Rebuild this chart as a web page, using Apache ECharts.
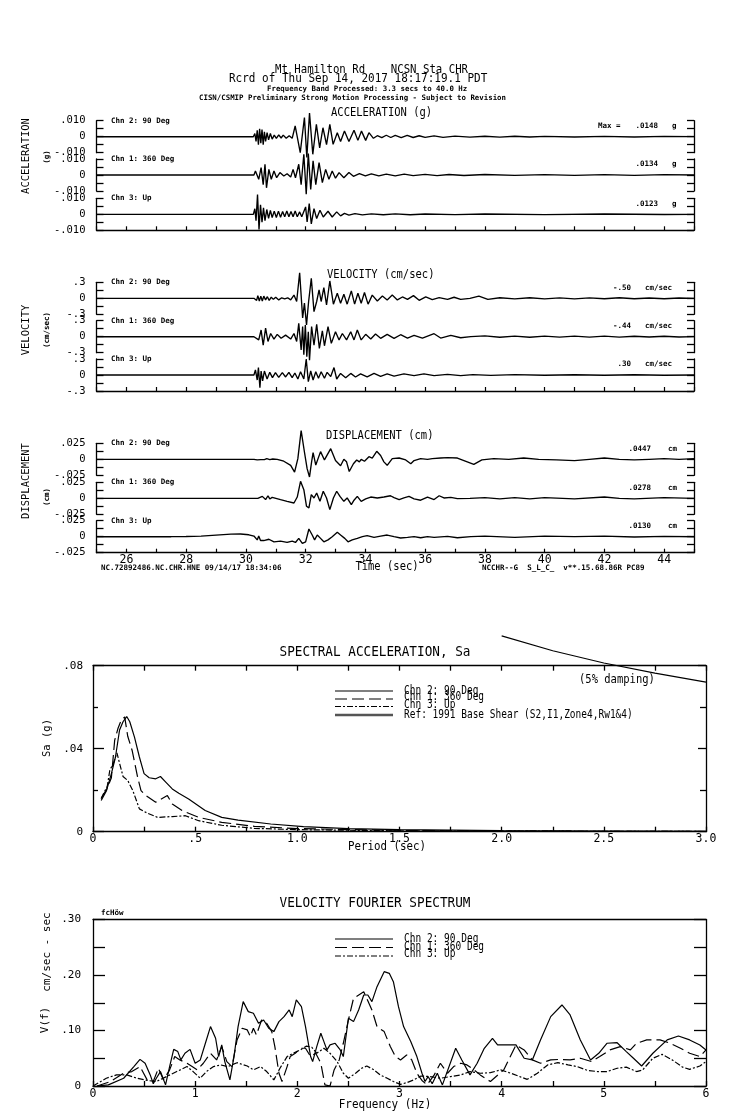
<!DOCTYPE html>
<html><head><meta charset="utf-8">
<script src="https://cdn.jsdelivr.net/npm/echarts@6/dist/echarts.min.js"></script>
<style>html,body{margin:0;padding:0;background:#fff}#c{width:739px;height:1115px}</style>
</head><body><div id="c"></div>
<script>
// ---------- time histories [time (s), value] ----------
const accChn2=[[25,0],[30.25,0],[30.3,0.002],[30.34,-0.003],[30.38,0.004],[30.42,-0.005],[30.46,0.005],[30.5,-0.004],[30.54,0.0045],[30.58,-0.005],[30.62,0.003],[30.66,-0.003],[30.71,0.0025],[30.76,-0.002],[30.82,0.002],[30.88,-0.0015],[30.95,0.001],[31.02,-0.001],[31.1,0.0012],[31.18,-0.0008],[31.25,0.001],[31.35,-0.001],[31.45,0.0006],[31.55,-0.001],[31.65,0.0067],[31.82,-0.010],[31.96,0.012],[32.04,-0.013],[32.13,0.0148],[32.24,-0.011],[32.36,0.0077],[32.47,-0.007],[32.58,0.0056],[32.70,-0.005],[32.81,0.0077],[32.92,-0.0048],[33.06,0.0025],[33.17,-0.003],[33.30,0.0035],[33.45,-0.003],[33.62,0.004],[33.75,-0.0023],[33.87,0.0035],[34.01,-0.0023],[34.12,0.0025],[34.27,-0.001],[34.4,0.0006],[34.55,-0.0006],[34.7,0.0009],[34.85,-0.0005],[35.0,0.0008],[35.2,-0.0006],[35.4,0.0008],[35.6,-0.0005],[35.8,0.0006],[36.0,-0.0004],[36.3,0.0005],[36.6,-0.0004],[37.0,0.0004],[37.5,-0.0003],[38,0.0003],[38.5,-0.0003],[39,0.0003],[39.5,-0.0002],[40,0.0002],[41,-0.0002],[42,0.0002],[43,-0.0002],[44,0.0002],[45,0]];
const accChn1=[[25,0],[30.27,0],[30.32,0.0025],[30.43,-0.0027],[30.51,0.0046],[30.58,-0.006],[30.64,0.0067],[30.69,-0.008],[30.77,0.0035],[30.85,-0.0027],[30.94,0.0025],[31.03,-0.0017],[31.14,0.0015],[31.27,-0.0006],[31.38,0.0008],[31.50,-0.0013],[31.58,0.0035],[31.66,-0.0017],[31.77,0.0067],[31.85,-0.006],[31.94,0.013],[32.02,-0.012],[32.09,0.0134],[32.17,-0.009],[32.25,0.0088],[32.34,-0.006],[32.45,0.0077],[32.56,-0.0048],[32.67,0.0035],[32.78,-0.0027],[32.89,0.0025],[33.00,-0.002],[33.12,0.0015],[33.28,-0.0017],[33.45,0.0015],[33.6,-0.0008],[33.8,0.0008],[34.0,-0.0006],[34.2,0.0007],[34.45,-0.0005],[34.7,0.0006],[35.0,-0.0005],[35.3,0.0005],[35.6,-0.0004],[36.0,0.0004],[36.4,-0.0004],[36.8,0.0003],[37.3,-0.0003],[38,0.0003],[39,-0.0002],[40,0.0002],[41,-0.0002],[42,0.0002],[43,-0.0002],[44,0.0002],[45,0]];
const accChn3=[[25,0],[30.25,0],[30.30,0.0035],[30.34,-0.004],[30.39,0.0123],[30.44,-0.0095],[30.49,0.006],[30.54,-0.005],[30.59,0.004],[30.64,-0.004],[30.70,0.003],[30.76,-0.0025],[30.82,0.0025],[30.88,-0.002],[30.95,0.002],[31.02,-0.002],[31.09,0.002],[31.16,-0.0018],[31.23,0.0018],[31.30,-0.0015],[31.37,0.002],[31.44,-0.0015],[31.51,0.0018],[31.58,-0.0015],[31.65,0.002],[31.72,-0.0015],[31.80,0.0015],[31.87,-0.0015],[32.00,0.0046],[32.05,-0.0048],[32.12,0.0067],[32.19,-0.006],[32.28,0.0035],[32.37,-0.0027],[32.48,0.0025],[32.59,-0.0017],[32.75,0.0019],[32.89,-0.0017],[33.04,0.0015],[33.17,-0.001],[33.3,0.0006],[33.45,-0.0005],[33.65,0.0004],[33.9,-0.0004],[34.2,0.0003],[34.6,-0.0003],[35.0,0.0003],[35.5,-0.0003],[36,0.0002],[37,-0.0002],[38,0.0002],[40,-0.0002],[42,0.0002],[44,-0.0001],[45,0]];
const velChn2=[[25,0],[30.27,0],[30.32,0.03],[30.36,-0.04],[30.40,0.05],[30.45,-0.05],[30.50,0.04],[30.55,-0.05],[30.60,0.04],[30.66,-0.03],[30.72,0.03],[30.78,-0.04],[30.85,0.02],[30.92,-0.02],[31.0,0.02],[31.1,-0.03],[31.2,0.01],[31.3,-0.01],[31.4,0.01],[31.50,-0.03],[31.61,0.06],[31.70,-0.06],[31.80,0.48],[31.90,-0.37],[31.96,-0.09],[32.03,-0.50],[32.10,-0.06],[32.19,0.375],[32.28,-0.25],[32.37,-0.06],[32.45,0.16],[32.52,-0.06],[32.61,0.2],[32.70,-0.125],[32.81,0.325],[32.93,-0.11],[33.06,0.094],[33.17,-0.094],[33.28,0.075],[33.39,-0.11],[33.53,0.14],[33.64,-0.11],[33.75,0.094],[33.86,-0.094],[33.97,0.11],[34.09,-0.11],[34.23,0.06],[34.40,-0.05],[34.57,0.044],[34.73,-0.03],[34.90,0.06],[35.07,-0.03],[35.24,0.025],[35.41,-0.02],[35.61,0.05],[35.80,-0.037],[36.02,0.025],[36.24,-0.025],[36.47,0.013],[36.75,-0.02],[36.97,0.02],[37.19,-0.02],[37.5,0.0],[37.8,0.04],[38.1,-0.02],[38.5,0.01],[39.0,-0.01],[39.5,0.01],[40,-0.01],[40.5,0.008],[41,-0.01],[41.5,0.008],[42,-0.008],[42.5,0.01],[43,-0.008],[43.5,0.006],[44,-0.008],[44.5,0.006],[45,0]];
const velChn1=[[25,0],[30.27,0],[30.32,0.03],[30.43,-0.06],[30.51,0.125],[30.58,-0.16],[30.66,0.16],[30.74,-0.09],[30.83,0.06],[30.94,-0.044],[31.05,0.044],[31.18,-0.03],[31.33,0.03],[31.50,-0.044],[31.61,0.06],[31.70,-0.09],[31.77,0.25],[31.85,-0.25],[31.90,0.19],[31.94,-0.34],[31.99,0.22],[32.04,-0.375],[32.09,0.09],[32.13,-0.44],[32.20,0.19],[32.28,-0.16],[32.37,0.23],[32.46,-0.22],[32.56,0.11],[32.63,-0.17],[32.75,0.19],[32.86,-0.125],[33.00,0.094],[33.12,-0.06],[33.23,0.06],[33.37,-0.06],[33.51,0.094],[33.62,-0.06],[33.73,0.125],[33.86,-0.06],[34.01,0.044],[34.18,-0.044],[34.34,0.05],[34.51,-0.03],[34.73,0.044],[34.96,-0.03],[35.18,0.037],[35.41,-0.025],[35.63,0.025],[35.91,-0.025],[36.30,0.056],[36.52,-0.025],[36.86,0.025],[37.19,-0.02],[37.53,0],[38,0.015],[38.5,-0.01],[39,0.01],[39.5,-0.01],[40,0.012],[40.5,-0.008],[41,0.01],[41.5,-0.008],[42,0.012],[42.5,-0.008],[43,0.008],[43.5,-0.006],[44,0.008],[44.5,-0.005],[45,0]];
const velChn3=[[25,0],[30.27,0],[30.32,0.094],[30.38,-0.094],[30.42,0.14],[30.47,-0.24],[30.51,0.075],[30.56,-0.11],[30.62,0.075],[30.71,-0.075],[30.80,0.05],[30.89,-0.05],[30.99,0.044],[31.10,-0.044],[31.22,0.044],[31.33,-0.037],[31.44,0.05],[31.55,-0.05],[31.64,0.037],[31.74,-0.075],[31.83,0.06],[31.94,-0.075],[32.02,0.30],[32.09,-0.125],[32.17,0.075],[32.25,-0.094],[32.34,0.06],[32.43,-0.06],[32.52,0.06],[32.63,-0.06],[32.72,0.05],[32.84,-0.03],[32.95,0.14],[33.04,-0.075],[33.17,0.03],[33.34,-0.05],[33.51,0.03],[33.67,-0.037],[33.84,0.02],[34.06,-0.037],[34.29,0.03],[34.51,-0.025],[34.73,0.02],[34.96,-0.02],[35.29,0.02],[35.63,-0.012],[35.96,0.02],[36.30,-0.012],[36.75,0.012],[37.19,-0.012],[37.6,0.008],[38.2,-0.006],[39,0.006],[40,-0.005],[41,0.005],[42,-0.005],[43,0.004],[44,-0.004],[45,0]];
const dispChn2=[[25,0],[30.27,0],[30.32,0.001],[30.38,-0.001],[30.43,0.0015],[30.5,-0.0005],[30.56,0.0015],[30.62,-0.0005],[30.7,0.001],[30.8,-0.0005],[30.9,0.0005],[31.05,0],[31.27,-0.003],[31.50,-0.0094],[31.63,-0.02],[31.74,0.001],[31.85,0.0447],[31.96,0.0114],[32.05,-0.0146],[32.13,-0.0276],[32.20,-0.004],[32.25,0.0104],[32.34,-0.009],[32.50,0.012],[32.63,-0.001],[32.84,0.0166],[33.00,-0.002],[33.17,-0.01],[33.28,0.0],[33.37,-0.004],[33.46,-0.019],[33.60,-0.007],[33.71,-0.001],[33.80,-0.004],[33.86,0.0],[33.97,-0.003],[34.12,0.004],[34.23,0.002],[34.38,0.0125],[34.51,0.006],[34.62,-0.004],[34.73,-0.0094],[34.90,0.001],[35.13,0.002],[35.35,-0.001],[35.52,-0.007],[35.63,-0.002],[35.85,0.001],[36.08,0],[36.24,0.001],[36.52,0.002],[36.75,0.0025],[37.08,0.002],[37.30,-0.002],[37.63,-0.008],[37.9,-0.001],[38.3,0.001],[38.8,0.0],[39.3,0.002],[39.8,0.0],[40.4,-0.001],[41,-0.002],[41.5,0.0],[42,0.002],[42.5,0.0],[43,-0.001],[43.5,0.0],[44,0.001],[44.5,0.0],[45,0.001]];
const dispChn1=[[25,0],[30.4,0],[30.55,0.003],[30.66,-0.002],[30.74,0.004],[30.80,-0.001],[30.88,0.0015],[31.16,-0.002],[31.38,-0.0047],[31.61,-0.0073],[31.72,0.002],[31.83,0.0265],[31.94,0.0135],[32.03,-0.0125],[32.11,-0.015],[32.19,0.0057],[32.28,0.0005],[32.37,0.0083],[32.48,-0.0047],[32.59,0.011],[32.70,0.0005],[32.81,-0.0177],[32.93,0.0005],[33.04,0.011],[33.15,0.003],[33.28,-0.0047],[33.39,0.0005],[33.53,-0.01],[33.62,-0.003],[33.73,0.003],[33.86,-0.0047],[34.01,-0.001],[34.18,0.002],[34.40,0.0005],[34.62,0.002],[34.84,0.004],[34.96,0.001],[35.13,-0.002],[35.29,0.0005],[35.46,0.003],[35.63,-0.001],[35.85,-0.003],[36.08,0.002],[36.30,-0.002],[36.47,0.004],[36.63,0.0005],[36.86,0.0015],[37.08,-0.0005],[37.5,0],[38,0.001],[38.5,-0.001],[39,0.001],[39.5,-0.001],[40,0.001],[41,-0.001],[42,0.002],[42.5,0],[43,-0.001],[44,0.001],[45,0]];
const dispChn3=[[25,0],[27.5,0],[28,0.0003],[28.5,0.001],[29,0.0025],[29.5,0.004],[29.82,0.0042],[30.1,0.003],[30.27,0.001],[30.32,0.001],[30.38,-0.005],[30.43,0.001],[30.49,-0.006],[30.55,-0.003],[30.60,-0.006],[30.77,-0.004],[30.94,-0.008],[31.16,-0.007],[31.38,-0.009],[31.55,-0.007],[31.66,-0.009],[31.77,-0.0026],[31.89,-0.0104],[32.00,-0.008],[32.11,0.012],[32.22,0.0026],[32.30,-0.005],[32.39,0.0026],[32.50,-0.0026],[32.61,-0.008],[32.75,-0.005],[32.89,0],[33.06,0.0068],[33.17,0.0026],[33.31,-0.0026],[33.42,-0.008],[33.56,-0.005],[33.73,-0.0026],[33.90,0],[34.06,0.0016],[34.29,-0.001],[34.51,0.001],[34.73,0.0026],[34.96,0],[35.18,-0.002],[35.41,-0.001],[35.63,0],[35.85,-0.0016],[36.08,0],[36.30,-0.001],[36.75,0.0005],[37.08,-0.0016],[37.53,0],[38,0.001],[39,-0.001],[40,0.001],[41,0],[42,0.001],[43,-0.0005],[44,0.0005],[45,0]];

// ---------- spectral acceleration [period (s), Sa (g)] ----------
const saChn2=[[0.04,0.015],[0.066,0.0198],[0.09,0.028],[0.11,0.036],[0.13,0.049],[0.147,0.053],[0.165,0.0555],[0.18,0.053],[0.203,0.0456],[0.227,0.036],[0.25,0.028],[0.275,0.026],[0.307,0.0255],[0.33,0.0266],[0.356,0.0239],[0.388,0.0206],[0.42,0.0185],[0.468,0.0158],[0.549,0.0102],[0.63,0.0069],[0.71,0.0056],[0.87,0.0037],[1.03,0.0024],[1.25,0.0015],[1.5,0.001],[2.0,0.0005],[2.5,0.0003],[3.0,0.0002]];
const saChn1=[[0.04,0.016],[0.07,0.021],[0.09,0.026],[0.106,0.044],[0.122,0.0497],[0.138,0.0537],[0.155,0.0553],[0.17,0.046],[0.192,0.039],[0.219,0.026],[0.235,0.0198],[0.259,0.0174],[0.307,0.0142],[0.364,0.0174],[0.388,0.0134],[0.436,0.0102],[0.517,0.0069],[0.63,0.0045],[0.79,0.0026],[1.0,0.0015],[1.5,0.0006],[2.0,0.0003],[3.0,0.0001]];
const saChn3=[[0.04,0.016],[0.07,0.022],[0.082,0.0295],[0.1,0.033],[0.117,0.038],[0.13,0.033],[0.147,0.0266],[0.17,0.0247],[0.195,0.0198],[0.227,0.011],[0.267,0.0089],[0.316,0.0069],[0.388,0.0073],[0.452,0.0077],[0.517,0.0053],[0.63,0.0031],[0.79,0.0016],[1.0,0.001],[1.5,0.0004],[3.0,0.0001]];
const saRef=[[2.0,0.0944],[2.25,0.0872],[2.5,0.0813],[2.75,0.0764],[3.0,0.0721]];

// ---------- velocity Fourier spectrum [frequency (Hz), V(f)] ----------
const fsChn2=[[0.04,0],[0.15,0.002],[0.3,0.014],[0.4,0.035],[0.46,0.048],[0.51,0.041],[0.56,0.02],[0.59,0.004],[0.62,0.014],[0.66,0.026],[0.71,0.002],[0.75,0.035],[0.79,0.066],[0.83,0.062],[0.86,0.047],[0.9,0.059],[0.95,0.066],[1.0,0.041],[1.05,0.047],[1.1,0.077],[1.15,0.107],[1.2,0.086],[1.23,0.053],[1.26,0.074],[1.29,0.044],[1.34,0.011],[1.38,0.053],[1.42,0.107],[1.47,0.152],[1.52,0.134],[1.57,0.131],[1.62,0.113],[1.67,0.119],[1.72,0.104],[1.77,0.098],[1.82,0.116],[1.87,0.125],[1.92,0.137],[1.95,0.125],[1.99,0.155],[2.04,0.143],[2.08,0.107],[2.13,0.053],[2.15,0.044],[2.19,0.071],[2.23,0.095],[2.26,0.080],[2.29,0.065],[2.32,0.074],[2.37,0.077],[2.42,0.065],[2.45,0.053],[2.5,0.122],[2.55,0.116],[2.6,0.137],[2.65,0.164],[2.69,0.164],[2.73,0.152],[2.78,0.179],[2.85,0.206],[2.9,0.203],[2.94,0.188],[2.99,0.143],[3.04,0.107],[3.11,0.08],[3.17,0.053],[3.22,0.023],[3.25,0.008],[3.28,0.017],[3.32,0.004],[3.37,0.023],[3.42,0.002],[3.55,0.068],[3.61,0.047],[3.69,0.02],[3.76,0.041],[3.83,0.068],[3.91,0.086],[3.96,0.074],[4.05,0.074],[4.14,0.074],[4.22,0.05],[4.3,0.047],[4.38,0.083],[4.48,0.125],[4.59,0.146],[4.67,0.128],[4.77,0.083],[4.87,0.047],[4.95,0.059],[5.03,0.077],[5.13,0.078],[5.22,0.062],[5.29,0.05],[5.37,0.036],[5.48,0.059],[5.62,0.083],[5.73,0.09],[5.84,0.083],[5.94,0.074],[6.0,0.065]];
const fsChn1=[[0.04,0],[0.17,0.008],[0.3,0.023],[0.38,0.026],[0.46,0.035],[0.53,0.011],[0.59,0.008],[0.64,0.032],[0.69,0.011],[0.75,0.029],[0.8,0.053],[0.85,0.047],[0.92,0.041],[0.97,0.035],[1.02,0.029],[1.08,0.041],[1.15,0.059],[1.21,0.047],[1.26,0.071],[1.31,0.044],[1.36,0.035],[1.41,0.083],[1.46,0.104],[1.51,0.101],[1.54,0.089],[1.57,0.104],[1.6,0.092],[1.65,0.119],[1.7,0.113],[1.75,0.098],[1.78,0.071],[1.82,0.023],[1.85,0.008],[1.9,0.035],[1.93,0.053],[1.98,0.059],[2.03,0.068],[2.08,0.068],[2.13,0.053],[2.18,0.059],[2.23,0.041],[2.27,0.002],[2.32,0.0],[2.36,0.029],[2.41,0.047],[2.45,0.077],[2.5,0.119],[2.55,0.158],[2.65,0.17],[2.73,0.137],[2.78,0.107],[2.85,0.098],[2.91,0.071],[2.96,0.053],[3.01,0.047],[3.07,0.056],[3.12,0.047],[3.17,0.023],[3.22,0.01],[3.27,0.002],[3.34,0.02],[3.4,0.041],[3.47,0.023],[3.53,0.035],[3.6,0.041],[3.66,0.038],[3.73,0.029],[3.79,0.02],[3.89,0.008],[4.02,0.029],[4.14,0.074],[4.22,0.065],[4.3,0.047],[4.38,0.041],[4.48,0.047],[4.57,0.048],[4.67,0.047],[4.77,0.05],[4.88,0.044],[4.96,0.053],[5.06,0.065],[5.16,0.071],[5.26,0.065],[5.32,0.077],[5.42,0.083],[5.55,0.083],[5.65,0.077],[5.75,0.068],[5.84,0.059],[5.94,0.053],[6.0,0.065]];
const fsChn3=[[0.0,0.0],[0.13,0.014],[0.23,0.02],[0.33,0.02],[0.43,0.014],[0.53,0.01],[0.62,0.008],[0.72,0.017],[0.82,0.026],[0.92,0.035],[0.98,0.026],[1.05,0.014],[1.11,0.026],[1.18,0.035],[1.25,0.038],[1.32,0.035],[1.41,0.042],[1.51,0.036],[1.57,0.029],[1.64,0.035],[1.7,0.026],[1.77,0.011],[1.83,0.032],[1.9,0.053],[1.96,0.059],[2.03,0.065],[2.09,0.072],[2.14,0.07],[2.19,0.059],[2.26,0.068],[2.32,0.059],[2.39,0.044],[2.45,0.023],[2.5,0.014],[2.57,0.023],[2.63,0.032],[2.68,0.036],[2.75,0.029],[2.81,0.02],[2.88,0.014],[2.94,0.008],[3.01,0.003],[3.07,0.006],[3.14,0.011],[3.21,0.018],[3.3,0.017],[3.4,0.014],[3.5,0.017],[3.6,0.02],[3.69,0.026],[3.79,0.023],[3.89,0.024],[3.99,0.029],[4.09,0.023],[4.19,0.016],[4.25,0.012],[4.35,0.023],[4.45,0.038],[4.55,0.042],[4.65,0.038],[4.74,0.035],[4.84,0.028],[4.94,0.026],[5.03,0.026],[5.13,0.032],[5.22,0.034],[5.32,0.026],[5.38,0.029],[5.48,0.05],[5.57,0.057],[5.67,0.047],[5.77,0.034],[5.84,0.03],[5.94,0.036],[6.0,0.044]];

// ---------- labels ----------
const chnNames=['Chn 2: 90 Deg','Chn 1: 360 Deg','Chn 3: Up'];
const accMax=['.0148','.0134','.0123'];
const velMax=['-.50','-.44','.30'];
const dispMax=['.0447','.0278','.0130'];
const legendNames=['Chn 2: 90 Deg','Chn 1: 360 Deg','Chn 3: Up','Ref: 1991 Base Shear (S2,I1,Zone4,Rw1&4)'];

const MONO='"DejaVu Sans Mono", monospace';
const BLACK='#000';
const grids=[],xAxes=[],yAxes=[],series=[],graphic=[];
const line={show:true,onZero:false,lineStyle:{color:BLACK,width:1.3}};

function txt(x,y,text,size,align,opts){
  opts=opts||{};
  graphic.push({type:'text',x:x,y:y,rotation:opts.rot||0,scaleY:opts.sy||1,silent:true,z:100,
    style:{text:text,fill:BLACK,font:(opts.bold?'bold ':'')+size+'px '+MONO,
      textAlign:align||'left',textVerticalAlign:'middle',align:align||'left',verticalAlign:'middle'}});
}
function seg(x1,y1,x2,y2,dash,w,col){
  graphic.push({type:'line',silent:true,z:100,shape:{x1:x1,y1:y1,x2:x2,y2:y2},
    style:{stroke:col||BLACK,lineWidth:w||1,lineDash:dash||null}});
}

function addTrace(top,data,ymax,lblTop,lblBot,bottom,xlabels){
  const gi=grids.length;
  grids.push({left:96.5,width:597.5,top:top,height:32,outerBoundsMode:'none'});
  xAxes.push({gridIndex:gi,type:'value',min:25,max:45,interval:1,show:bottom,
    axisLine:line,axisTick:{show:true,inside:true,length:4,lineStyle:{color:BLACK,width:1.2}},
    axisLabel:{show:xlabels,margin:1,color:BLACK,fontFamily:MONO,fontSize:11.5,
      formatter:v=>(Math.round(v)%2===0?String(Math.round(v)):'')},
    splitLine:{show:false}});
  const yi=yAxes.length;
  const fmt=v=>{ if(Math.abs(v)<ymax*1e-6) return '0';
    if(Math.abs(v-ymax)<ymax*1e-6) return lblTop;
    if(Math.abs(v+ymax)<ymax*1e-6) return lblBot; return ''; };
  yAxes.push({gridIndex:gi,type:'value',min:-ymax,max:ymax,interval:ymax/2,position:'left',
    axisLine:line,axisTick:{inside:true,length:7,lineStyle:{color:BLACK,width:1.3}},
    axisLabel:{margin:11,color:BLACK,fontFamily:MONO,fontSize:10.5,formatter:fmt,showMinLabel:true,showMaxLabel:true},
    splitLine:{show:false}});
  yAxes.push({gridIndex:gi,type:'value',min:-ymax,max:ymax,interval:ymax/2,position:'right',
    axisLine:line,axisTick:{inside:true,length:7,lineStyle:{color:BLACK,width:1.3}},
    axisLabel:{show:false},splitLine:{show:false}});
  series.push({type:'line',xAxisIndex:gi,yAxisIndex:yi,data:data,symbol:'none',showSymbol:false,
    clip:false,animation:false,lineStyle:{color:BLACK,width:1.35}});
}

// Acceleration / velocity / displacement blocks
const accTops=[120.7,159,198.3];
[accChn2,accChn1,accChn3].forEach((d,i)=>addTrace(accTops[i],d,0.010,'.010','-.010',i===2,false));
const velTops=[282.3,320.7,359];
[velChn2,velChn1,velChn3].forEach((d,i)=>addTrace(velTops[i],d,0.3,'.3','-.3',i===2,false));
const dispTops=[443.3,482.3,520.7];
[dispChn2,dispChn1,dispChn3].forEach((d,i)=>addTrace(dispTops[i],d,0.025,'.025','-.025',i===2,true));

// panel annotations
const SB={bold:true};
for(let i=0;i<3;i++){
  txt(111,accTops[i],chnNames[i],7.5,'left',SB);
  txt(111,velTops[i],chnNames[i],7.5,'left',SB);
  txt(111,dispTops[i],chnNames[i],7.5,'left',SB);
  txt(658,accTops[i]+5.5,accMax[i],7.5,'right',SB);
  txt(672,accTops[i]+5.5,'g',7.5,'left',SB);
  txt(631,velTops[i]+5.5,velMax[i],7.5,'right',SB);
  txt(645,velTops[i]+5.5,'cm/sec',7.5,'left',SB);
  txt(651,dispTops[i]+5.5,dispMax[i],7.5,'right',SB);
  txt(668,dispTops[i]+5.5,'cm',7.5,'left',SB);
}
txt(598,accTops[0]+5.5,'Max =',7.5,'left',SB);

// headers
txt(275,70,'Mt Hamilton Rd    NCSN Sta CHR',10.7,'left',{sy:1.15});
txt(229,79,'Rcrd of Thu Sep 14, 2017 18:17:19.1 PDT',11,'left',{sy:1.15});
txt(267,89.5,'Frequency Band Processed: 3.3 secs to 40.0 Hz',7.4,'left',SB);
txt(199,97.7,'CISN/CSMIP Preliminary Strong Motion Processing - Subject to Revision',7.4,'left',SB);
txt(331,113.3,'ACCELERATION (g)',10.5,'left',{sy:1.15});
txt(327,275,'VELOCITY (cm/sec)',10.5,'left',{sy:1.15});
txt(326,435.5,'DISPLACEMENT (cm)',10.5,'left',{sy:1.15});
const R=Math.PI/2;
txt(26,156,'ACCELERATION',10.5,'center',{rot:R});
txt(47,157,'(g)',7.5,'center',{rot:R,bold:true});
txt(26,330,'VELOCITY',10.5,'center',{rot:R});
txt(47,330,'(cm/sec)',7.5,'center',{rot:R,bold:true});
txt(26,481,'DISPLACEMENT',10.5,'center',{rot:R});
txt(47,497,'(cm)',7.5,'center',{rot:R,bold:true});
txt(387,566.5,'Time (sec)',10.5,'center',{sy:1.1});
txt(101,568,'NC.72892486.NC.CHR.HNE 09/14/17 18:34:06',7.5,'left',SB);
txt(482,568,'NCCHR--G  S_L_C_  v**.15.68.86R PC89',7.5,'left',SB);

// ---------- Spectral acceleration chart ----------
const gSa=grids.length;
grids.push({left:93,width:613,top:665.7,height:166,outerBoundsMode:'none'});
const xSa=xAxes.length;
const fmtPeriod=v=>{ const k=Math.round(v*2); if(Math.abs(v*2-k)>1e-6) return '';
  if(k===0) return '0'; if(k===1) return '.5'; return (k/2).toFixed(1); };
xAxes.push({gridIndex:gSa,type:'value',min:0,max:3,interval:0.25,position:'bottom',axisLine:line,
  axisTick:{inside:true,length:5,lineStyle:{color:BLACK,width:1.3}},
  axisLabel:{margin:1,color:BLACK,fontFamily:MONO,fontSize:11.5,formatter:fmtPeriod},splitLine:{show:false}});
xAxes.push({gridIndex:gSa,type:'value',min:0,max:3,interval:0.25,position:'top',axisLine:line,
  axisTick:{inside:true,length:5,lineStyle:{color:BLACK,width:1.3}},axisLabel:{show:false},splitLine:{show:false}});
const ySa=yAxes.length;
yAxes.push({gridIndex:gSa,type:'value',min:0,max:0.08,interval:0.04,position:'left',axisLine:line,
  axisTick:{inside:true,length:11,lineStyle:{color:BLACK,width:1.3}},
  minorTick:{show:true,splitNumber:2,length:5,lineStyle:{color:BLACK,width:1.3}},
  axisLabel:{margin:10,color:BLACK,fontFamily:MONO,fontSize:11,formatter:v=>v<1e-9?'0':'.0'+Math.round(v*100)},
  splitLine:{show:false},minorSplitLine:{show:false}});
yAxes.push({gridIndex:gSa,type:'value',min:0,max:0.08,interval:0.04,position:'right',axisLine:line,
  axisTick:{inside:true,length:8,lineStyle:{color:BLACK,width:1.3}},
  minorTick:{show:true,splitNumber:2,length:6,lineStyle:{color:BLACK,width:1.3}},
  axisLabel:{show:false},splitLine:{show:false},minorSplitLine:{show:false}});
const dashL=[12,5], dashDot=[6,2,2,2];
[[saChn2,'solid'],[saChn1,dashL],[saChn3,dashDot],[saRef,'solid']].forEach(p=>{
  series.push({type:'line',xAxisIndex:xSa,yAxisIndex:ySa,data:p[0],symbol:'none',showSymbol:false,clip:false,
    animation:false,lineStyle:{color:BLACK,width:1.2,type:p[1]}});
});
txt(375,651.7,'SPECTRAL ACCELERATION, Sa',12.7,'center',{sy:1.15});
txt(579,680,'(5% damping)',10.5,'left',{sy:1.15});
const saLegY=[691,697.5,705,715];
seg(335,691,393,691,null,1.2);
seg(335,699,393,699,dashL,1.2);
seg(335,706.5,393,706.5,dashDot,1.2);
seg(335,715,393,715,null,2.5,'#555');
legendNames.forEach((n,i)=>txt(404,saLegY[i],n,9.5,'left',{sy:1.2}));
txt(387,846.7,'Period (sec)',10.8,'center',{sy:1.15});
txt(47,738,'Sa (g)',10.5,'center',{rot:R});

// ---------- Velocity Fourier spectrum chart ----------
const gFs=grids.length;
grids.push({left:93,width:613,top:919.5,height:166.5,outerBoundsMode:'none'});
const xFs=xAxes.length;
xAxes.push({gridIndex:gFs,type:'value',min:0,max:6,interval:0.5,position:'bottom',axisLine:line,
  axisTick:{inside:true,length:5,lineStyle:{color:BLACK,width:1.3}},
  axisLabel:{margin:2,color:BLACK,fontFamily:MONO,fontSize:11.5,
    formatter:v=>(Math.abs(v-Math.round(v))<1e-6?String(Math.round(v)):'')},splitLine:{show:false}});
xAxes.push({gridIndex:gFs,type:'value',min:0,max:6,interval:0.5,position:'top',axisLine:line,
  axisTick:{show:false},axisLabel:{show:false},splitLine:{show:false}});
const yFs=yAxes.length;
const fmtFs=v=>{ const k=Math.round(v*100); if(k===0) return '0'; if(k%10!==0) return ''; return '.'+k; };
yAxes.push({gridIndex:gFs,type:'value',min:0,max:0.3,interval:0.05,position:'left',axisLine:line,
  axisTick:{inside:true,length:12,lineStyle:{color:BLACK,width:1.3}},
  axisLabel:{margin:12,color:BLACK,fontFamily:MONO,fontSize:11,formatter:fmtFs},splitLine:{show:false}});
yAxes.push({gridIndex:gFs,type:'value',min:0,max:0.3,interval:0.05,position:'right',axisLine:line,
  axisTick:{inside:true,length:12,lineStyle:{color:BLACK,width:1.3}},axisLabel:{show:false},splitLine:{show:false}});
[[fsChn2,'solid'],[fsChn1,dashL],[fsChn3,dashDot]].forEach(p=>{
  series.push({type:'line',xAxisIndex:xFs,yAxisIndex:yFs,data:p[0],symbol:'none',showSymbol:false,clip:false,
    animation:false,lineStyle:{color:BLACK,width:1.2,type:p[1]}});
});
txt(375,903.3,'VELOCITY FOURIER SPECTRUM',12.7,'center',{sy:1.15});
txt(101,913,'fcHöw',7.5,'left',SB);
const fsLegY=[939,946.7,954.3];
seg(335,939,393,939,null,1.2);
seg(335,947.5,393,947.5,dashL,1.2);
seg(335,956,393,956,dashDot,1.2);
for(let i=0;i<3;i++) txt(404,fsLegY[i],legendNames[i],9.5,'left',{sy:1.2});
txt(385,1105,'Frequency (Hz)',11,'center',{sy:1.15});
txt(45,1020,'V(f)',11,'center',{rot:R});
txt(47,952,'cm/sec - sec',11,'center',{rot:R});

const chart=echarts.init(document.getElementById('c'),null,{renderer:'canvas'});
chart.setOption({backgroundColor:'#fff',animation:false,textStyle:{fontFamily:MONO},
  grid:grids,xAxis:xAxes,yAxis:yAxes,series:series,graphic:{elements:graphic}});
</script></body></html>
